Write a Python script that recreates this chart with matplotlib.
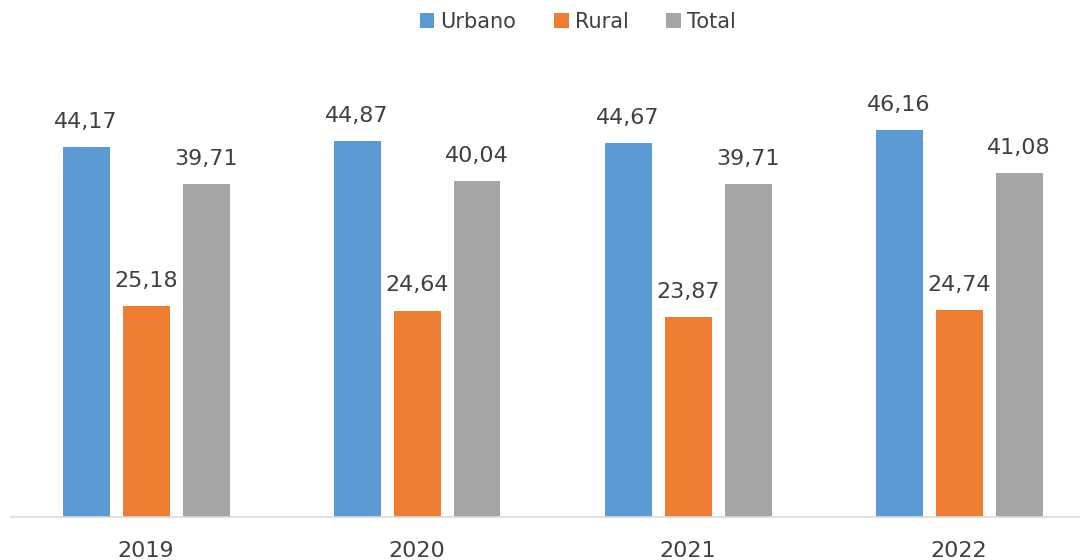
import numpy as np
import matplotlib
matplotlib.use("Agg")
import matplotlib.pyplot as plt

years = ["2019", "2020", "2021", "2022"]
series = ["Urbano", "Rural", "Total"]
urbano = [44.17, 44.87, 44.67, 46.16]
rural = [25.18, 24.64, 23.87, 24.74]
total = [39.71, 40.04, 39.71, 41.08]
colors = ["#5B9BD5", "#ED7D31", "#A5A5A5"]

plt.rcParams["font.family"] = ["DejaVu Sans"]
text_color = "#404040"

fig = plt.figure(figsize=(10.8, 5.6), dpi=100)
# axes placed in pixel terms: baseline at y=517, categories 271 px wide
ax = fig.add_axes([10.5 / 1080, 43 / 560, 1084 / 1080, 419 / 560])

x = np.arange(len(years))
width = 47 / 271
step = 60 / 271
for i, (name, vals) in enumerate(zip(series, [urbano, rural, total])):
    pos = x + (i - 1) * step
    ax.bar(pos, vals, width, color=colors[i], label=name)
    for px, v in zip(pos, vals):
        ax.annotate(f"{v:.2f}".replace(".", ","), (px, v),
                    xytext=(0, 13.7), textcoords="offset points",
                    ha="center", va="baseline", fontsize=16, color=text_color)

ax.set_xlim(-0.5, 3.5)
ax.set_ylim(0, 50)
ax.set_xticks(x)
ax.set_xticklabels(years, fontsize=16, color=text_color)
ax.tick_params(axis="x", length=0, pad=17)
ax.set_yticks([])
for s in ["top", "left", "right"]:
    ax.spines[s].set_visible(False)
ax.spines["bottom"].set_color("#D9D9D9")
ax.spines["bottom"].set_linewidth(1.2)

leg = fig.legend(loc="center", bbox_to_anchor=(0.535, 1 - 22 / 560), ncol=3,
                 frameon=False, fontsize=15, handlelength=0.7, handleheight=0.7,
                 handletextpad=0.3, columnspacing=1.8)
for t in leg.get_texts():
    t.set_color(text_color)

fig.savefig("out.png", dpi=100)
